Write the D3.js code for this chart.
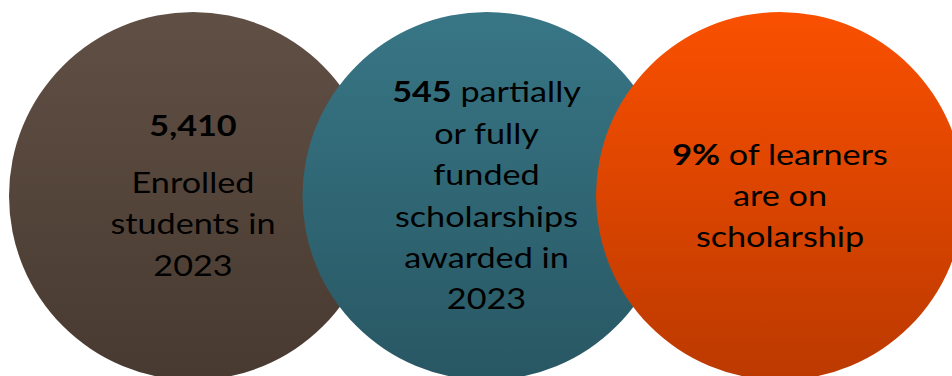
<!DOCTYPE html>
<html>
<head>
<meta charset="utf-8">
<script src="https://cdn.jsdelivr.net/npm/d3@7"></script>
<style>
  html, body { margin: 0; padding: 0; background: #ffffff; }
  svg { display: block; }
</style>
</head>
<body>
<svg id="chart" width="952" height="376"></svg>
<script>
// Three headline figures, one per overlapping disc
const keys = ["enrolled", "scholarships", "share"];
const figures = ["5,410", "545", "9%"];
// Text after the bold figure, line by line (first entry sits on the figure's line unless figureOwnLine)
const captions = [
  ["Enrolled", "students in", "2023"],
  [" partially", "or fully", "funded", "scholarships", "awarded in", "2023"],
  [" of learners", "are on", "scholarship"]
];
const figureOwnLine = [true, false, false];
const topColors = ["#604f44", "#387686", "#fa5000"];
const bottomColors = ["#483a31", "#285763", "#bb3900"];

const width = 952, height = 376;
const svg = d3.select("#chart");

const x = d3.scalePoint().domain(keys).range([193, 780]);
const cy = 196;
const r = 184;
const lineH = 41.4;
const paraGap = 15;
const fontSize = 28.5;
const stretch = 1.2;
const font = "Lato, 'Open Sans', sans-serif";

const defs = svg.append("defs");
keys.forEach((k, i) => {
  const g = defs.append("linearGradient")
    .attr("id", "grad-" + k)
    .attr("x1", 0).attr("y1", 0).attr("x2", 0).attr("y2", 1);
  g.append("stop").attr("offset", "0%").attr("stop-color", topColors[i]);
  g.append("stop").attr("offset", "100%").attr("stop-color", bottomColors[i]);
});

const discs = svg.selectAll("g.disc")
  .data(keys)
  .join("g")
  .attr("class", "disc");

discs.append("circle")
  .attr("cx", d => x(d))
  .attr("cy", cy)
  .attr("r", r)
  .attr("fill", d => "url(#grad-" + d + ")");

discs.each(function(k, i) {
  const g = d3.select(this);
  // Build lines: array of segments {t, bold}
  const lines = [];
  if (figureOwnLine[i]) {
    lines.push({ segs: [{ t: figures[i], bold: true }], gapAfter: paraGap });
    captions[i].forEach(c => lines.push({ segs: [{ t: c, bold: false }], gapAfter: 0 }));
  } else {
    lines.push({ segs: [{ t: figures[i], bold: true }, { t: captions[i][0], bold: false }], gapAfter: 0 });
    captions[i].slice(1).forEach(c => lines.push({ segs: [{ t: c, bold: false }], gapAfter: 0 }));
  }
  let span = 0;
  lines.forEach((l, j) => { if (j < lines.length - 1) span += lineH + l.gapAfter; });
  let y = cy + 10 - span / 2;
  const text = g.append("text")
    .attr("transform", `translate(${x(k)},0) scale(${stretch},1)`)
    .attr("text-anchor", "middle")
    .attr("font-family", font)
    .attr("font-size", fontSize)
    .attr("fill", "#000000");
  lines.forEach(l => {
    const ln = text.append("tspan").attr("x", 0).attr("y", y);
    l.segs.forEach(s => {
      ln.append("tspan")
        .attr("font-weight", s.bold ? 700 : 400)
        .style("white-space", "pre")
        .text(s.t);
    });
    y += lineH + l.gapAfter;
  });
});
</script>
</body>
</html>
